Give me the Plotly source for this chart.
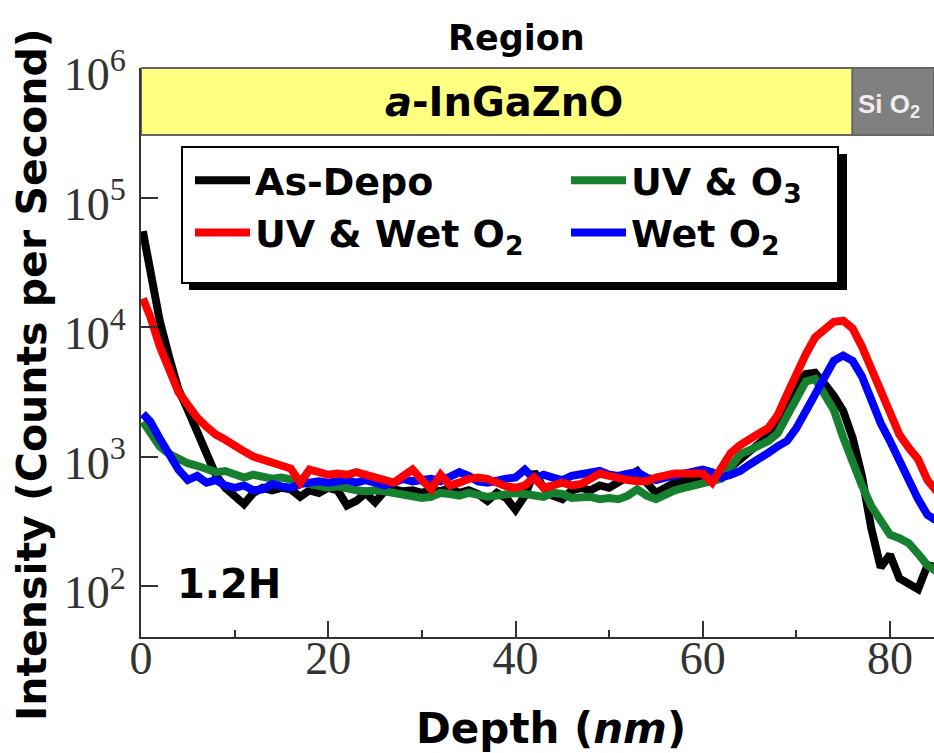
import plotly.graph_objects as go

# ---------------- data ----------------
depth_nm = [0.2] + list(range(1, 86))

as_depo = [55000, 28000, 11200, 5900, 3300, 2300, 1600, 1050, 720, 575,
           500, 430, 525, 575, 550, 575, 560, 490, 550, 525,
           575, 550, 420, 455, 525, 445, 540, 560, 540, 550,
           525, 560, 540, 575, 525, 550, 515, 455, 525, 480,
           390, 500, 760, 575, 500, 470, 550, 575, 550, 600,
           575, 630, 690, 775, 630, 525, 575, 630, 660, 660,
           675, 645, 710, 830, 955, 1120, 1260, 1450, 1780, 2500,
           3550, 4350, 4450, 3650, 2950, 2250, 1400, 710, 280, 140,
           175, 115, 105, 95, 145, 140]

uv_wet_o2 = [16600, 12000, 7100, 4570, 3160, 2510, 2000, 1700, 1480, 1350,
             1200, 1100, 1000, 955, 910, 870, 810, 630, 795, 760,
             725, 740, 725, 760, 725, 710, 675, 630, 710, 795,
             660, 560, 725, 600, 630, 675, 690, 675, 630, 590,
             575, 600, 690, 575, 600, 630, 600, 615, 675, 740,
             710, 675, 660, 645, 645, 690, 725, 740, 740, 740,
             740, 630, 830, 1070, 1230, 1380, 1510, 1660, 2090, 3020,
             4370, 6170, 8320, 9770, 11000, 11200, 9770, 7080, 4790, 3160,
             2040, 1480, 1170, 955, 660, 540]

wet_o2 = [2140, 1860, 1380, 1070, 795, 660, 710, 630, 660, 600,
          575, 600, 550, 560, 615, 590, 575, 615, 630, 645,
          630, 645, 660, 630, 660, 630, 600, 630, 675, 645,
          660, 675, 645, 690, 760, 710, 645, 630, 660, 675,
          690, 795, 675, 725, 690, 660, 710, 740, 760, 775,
          725, 710, 740, 760, 690, 660, 690, 710, 725, 760,
          795, 760, 690, 725, 775, 870, 955, 1070, 1200, 1320,
          1660, 2240, 3160, 4370, 5500, 6030, 5500, 4170, 2630, 1820,
          1320, 910, 660, 470, 355, 320]

uv_o3 = [1860, 1510, 1200, 1050, 955, 890, 850, 810, 760, 775,
         725, 690, 725, 710, 675, 690, 675, 645, 615, 600,
         575, 590, 560, 550, 540, 550, 540, 525, 515, 500,
         480, 490, 525, 515, 500, 525, 500, 490, 500, 515,
         525, 515, 500, 490, 525, 515, 480, 490, 490, 470,
         480, 470, 500, 560, 500, 470, 515, 550, 575, 600,
         615, 630, 675, 830, 1050, 1120, 1200, 1320, 1510, 2090,
         2950, 3800, 3980, 3020, 2290, 1410, 890, 600, 415, 315,
         250, 235, 215, 178, 145, 130]

series_names = ["As-Depo", "UV & O<sub>3</sub>", "UV & Wet O<sub>2</sub>", "Wet O<sub>2</sub>"]
series_values = [as_depo, uv_o3, uv_wet_o2, wet_o2]
series_colors = ["#000000", "#17802f", "#ff0000", "#0000ff"]
series_legend = ["legend", "legend2", "legend", "legend2"]   # left column / right column
legend_ranks = [1, 1, 2, 2]
draw_order = [0, 1, 3, 2]          # black, green, blue, red (red on top)

x_ticks = [0, 20, 40, 60, 80]
y_ticks = [1e2, 1e3, 1e4, 1e5, 1e6]
y_ticktext = ["10<sup>2</sup>", "10<sup>3</sup>", "10<sup>4</sup>", "10<sup>5</sup>", "10<sup>6</sup>"]
x_range = [0, 84.7]
y_range_log = [1.608, 6]
igzo_end_nm = 76

# ---------------- layout geometry ----------------
W, H = 934, 753
L, R, T, B = 141, 0, 68, 116
PW, PH = W - L - R, H - T - B


def px(xp):
    return (xp - L) / PW


def py(yp):
    return (H - B - yp) / PH


fig = go.Figure()
for i in draw_order:
    fig.add_trace(go.Scatter(
        x=depth_nm, y=series_values[i], mode="lines", name=series_names[i],
        legend=series_legend[i], legendrank=legend_ranks[i],
        line=dict(color=series_colors[i], width=8, shape="linear"),
    ))

SANS = "DejaVu Sans"
SERIF = "Liberation Serif"

legend_common = dict(
    orientation="v", xanchor="left", yanchor="top",
    bgcolor="rgba(0,0,0,0)", borderwidth=0,
    font=dict(family=SANS, size=38, color="black", weight="bold"),
    itemwidth=55, tracegroupgap=0,
)

fig.update_layout(
    width=W, height=H,
    margin=dict(l=L, r=R, t=T, b=B, pad=0, autoexpand=False),
    paper_bgcolor="white", plot_bgcolor="white",
    showlegend=True,
    legend=dict(x=px(190), y=py(149), **legend_common),
    legend2=dict(x=px(566), y=py(149), **legend_common),
    xaxis=dict(
        range=x_range, showgrid=False, zeroline=False, automargin=False,
        showline=True, linecolor="#333", linewidth=2,
        ticks="inside", ticklen=16, tickwidth=2, tickcolor="#333",
        tickvals=x_ticks,
        tickfont=dict(family=SERIF, size=46, color="#333"),
        minor=dict(dtick=10, tick0=0, ticks="inside", ticklen=7, tickwidth=2, tickcolor="#333"),
        ticklabelstandoff=-20,
    ),
    yaxis=dict(
        type="log", range=y_range_log, showgrid=False, zeroline=False, automargin=False,
        showline=True, linecolor="#333", linewidth=2,
        ticks="inside", ticklen=17, tickwidth=2, tickcolor="#333",
        tickvals=y_ticks, ticktext=y_ticktext,
        tickfont=dict(family=SERIF, size=46, color="#333"),
        ticklabelstandoff=4, ticklabelshift=6,
    ),
)

# Region bands
band_y0 = py(135)
fig.add_shape(type="rect", xref="x", yref="paper", x0=0, x1=igzo_end_nm, y0=band_y0, y1=1,
              fillcolor="#ffff80", line=dict(color="#666", width=2), layer="above")
fig.add_shape(type="rect", xref="x", yref="paper", x0=igzo_end_nm, x1=x_range[1], y0=band_y0, y1=1,
              fillcolor="#808080", line=dict(color="#666", width=2), layer="above")

# legend frame with drop shadow
fig.add_shape(type="rect", xref="paper", yref="paper", x0=px(189), x1=px(847), y0=py(290), y1=py(154),
              fillcolor="black", line=dict(width=0), layer="above")
fig.add_shape(type="rect", xref="paper", yref="paper", x0=px(182), x1=px(838), y0=py(283), y1=py(147),
              fillcolor="white", line=dict(color="black", width=2), layer="above")

ann = []


def add_text(text, xp, yp, size, family=SANS, color="black", angle=0, xanchor="center"):
    ann.append(dict(text=text, x=px(xp), y=py(yp), xref="paper", yref="paper",
                    xanchor=xanchor, yanchor="middle", textangle=angle,
                    showarrow=False, font=dict(family=family, size=size, color=color)))


add_text("<b>Region</b>", 516, 38, 35)
add_text("<b><i>a</i>-InGaZnO</b>", 504, 102, 40)
add_text("<b>Si O<sub>2</sub></b>", 856, 106, 26, family="Liberation Sans", color="#eeeeee", xanchor="left")
add_text("<b>1.2H</b>", 229, 584, 40)
add_text("<b>Depth (<i>nm</i>)</b>", 551, 728, 42)
add_text("<b>Intensity (Counts per Second)</b>", 32, 375, 41, angle=-90)
fig.update_layout(annotations=ann)

fig.write_html(
    "out.html",
    config={"displayModeBar": False},
    post_script="document.documentElement.style.margin='0';document.body.style.margin='0';"
                "document.body.style.padding='0';document.body.style.overflow='hidden';",
)
